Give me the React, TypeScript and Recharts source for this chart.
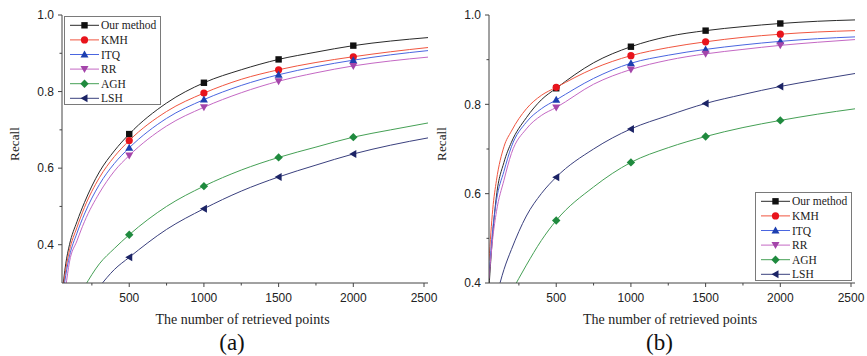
import React from "react";
import { LineChart, Line, XAxis, YAxis } from "recharts";

// sample positions along the x axis (number of retrieved points)
const xPoints = [50, 75, 100, 150, 200, 300, 400, 500, 750, 1000, 1250, 1500, 1750, 2000, 2250, 2500];
const markerAt = [500, 1000, 1500, 2000];

// panel (a)
const ourA = [0.27, 0.35, 0.4, 0.46, 0.51, 0.59, 0.645, 0.689, 0.77, 0.823, 0.857, 0.884, 0.903, 0.92, 0.932, 0.941];
const kmhA = [0.26, 0.335, 0.385, 0.445, 0.497, 0.575, 0.63, 0.672, 0.748, 0.796, 0.832, 0.857, 0.876, 0.891, 0.904, 0.915];
const itqA = [0.25, 0.32, 0.37, 0.43, 0.48, 0.557, 0.612, 0.653, 0.73, 0.779, 0.816, 0.844, 0.865, 0.882, 0.896, 0.907];
const rrA = [0.22, 0.29, 0.355, 0.41, 0.46, 0.535, 0.592, 0.633, 0.71, 0.759, 0.797, 0.827, 0.849, 0.867, 0.88, 0.89];
const aghA = [null, null, null, null, 0.29, 0.35, 0.39, 0.426, 0.5, 0.553, 0.595, 0.628, 0.655, 0.681, 0.7, 0.718];
const lshA = [null, null, null, null, null, 0.29, 0.335, 0.367, 0.44, 0.494, 0.54, 0.577, 0.608, 0.637, 0.66, 0.679];

// panel (b)
const ourB = [0.39, 0.51, 0.595, 0.67, 0.715, 0.77, 0.81, 0.836, 0.893, 0.929, 0.952, 0.965, 0.974, 0.981, 0.986, 0.989];
const kmhB = [0.45, 0.565, 0.63, 0.705, 0.74, 0.79, 0.82, 0.838, 0.88, 0.909, 0.927, 0.94, 0.95, 0.957, 0.962, 0.965];
const itqB = [0.42, 0.52, 0.585, 0.65, 0.705, 0.76, 0.79, 0.81, 0.858, 0.892, 0.91, 0.923, 0.933, 0.941, 0.947, 0.951];
const rrB = [0.41, 0.5, 0.56, 0.63, 0.69, 0.745, 0.775, 0.793, 0.845, 0.878, 0.899, 0.913, 0.923, 0.932, 0.939, 0.945];
const aghB = [null, null, null, null, 0.38, 0.44, 0.495, 0.54, 0.615, 0.67, 0.703, 0.728, 0.748, 0.764, 0.778, 0.79];
const lshB = [null, null, 0.37, 0.43, 0.475, 0.55, 0.6, 0.637, 0.7, 0.745, 0.775, 0.802, 0.822, 0.84, 0.855, 0.869];

const xTicks = [250, 500, 750, 1000, 1250, 1500, 1750, 2000, 2250, 2500];
const yTicks = [0.4, 0.5, 0.6, 0.7, 0.8, 0.9, 1.0];

type Shape = "square" | "circle" | "up" | "down" | "diamond" | "left";

const series: { key: string; name: string; line: string; fill: string; shape: Shape }[] = [
  { key: "our", name: "Our method", line: "#2a2a2a", fill: "#111111", shape: "square" },
  { key: "kmh", name: "KMH", line: "#f0553f", fill: "#e8141c", shape: "circle" },
  { key: "itq", name: "ITQ", line: "#4a66e0", fill: "#1d3fb0", shape: "up" },
  { key: "rr", name: "RR", line: "#c468c4", fill: "#a445aa", shape: "down" },
  { key: "agh", name: "AGH", line: "#45a055", fill: "#1f8a3e", shape: "diamond" },
  { key: "lsh", name: "LSH", line: "#3a407e", fill: "#1c2466", shape: "left" },
];

const rowsA = xPoints.map((x, i) => ({
  x, our: ourA[i], kmh: kmhA[i], itq: itqA[i], rr: rrA[i], agh: aghA[i], lsh: lshA[i],
}));
const rowsB = xPoints.map((x, i) => ({
  x, our: ourB[i], kmh: kmhB[i], itq: itqB[i], rr: rrB[i], agh: aghB[i], lsh: lshB[i],
}));

const sans = "'Liberation Sans', Arial, sans-serif";
const serif = "'Liberation Serif', 'Times New Roman', serif";
const axisColor = "#444";

function Marker({ cx, cy, shape, fill }: { cx: number; cy: number; shape: Shape; fill: string }) {
  switch (shape) {
    case "square":
      return <rect x={cx - 3.2} y={cy - 3.2} width={6.4} height={6.4} fill={fill} />;
    case "circle":
      return <circle cx={cx} cy={cy} r={3.6} fill={fill} />;
    case "up":
      return <polygon points={`${cx},${cy - 4} ${cx + 4},${cy + 3} ${cx - 4},${cy + 3}`} fill={fill} />;
    case "down":
      return <polygon points={`${cx},${cy + 4} ${cx + 4},${cy - 3} ${cx - 4},${cy - 3}`} fill={fill} />;
    case "diamond":
      return <polygon points={`${cx},${cy - 4.2} ${cx + 4.2},${cy} ${cx},${cy + 4.2} ${cx - 4.2},${cy}`} fill={fill} />;
    default:
      return <polygon points={`${cx - 4},${cy} ${cx + 3},${cy - 4} ${cx + 3},${cy + 4}`} fill={fill} />;
  }
}

const XTick = (props: any) => {
  const { x, y, payload } = props;
  const major = payload.value % 500 === 0;
  return (
    <g>
      <line x1={x} y1={y} x2={x} y2={y + (major ? 4 : 2.5)} stroke={axisColor} />
      {major && (
        <text x={x} y={y + 10} dy="0.71em" textAnchor="middle" fontSize={12} fontFamily={sans} fill="#222">
          {payload.value}
        </text>
      )}
    </g>
  );
};

const YTick = (props: any) => {
  const { x, y, payload } = props;
  const major = Math.round(payload.value * 10) % 2 === 0;
  return (
    <g>
      <line x1={x - (major ? 4 : 2.5)} y1={y} x2={x} y2={y} stroke={axisColor} />
      {major && (
        <text x={x - 8} y={y} dy="0.355em" textAnchor="end" fontSize={12} fontFamily={sans} fill="#222">
          {payload.value.toFixed(1)}
        </text>
      )}
    </g>
  );
};

function LegendBox({ left, top }: { left: number; top: number }) {
  return (
    <svg
      width={98}
      height={90}
      style={{ position: "absolute", left, top, overflow: "visible" }}
    >
      <rect x={0.5} y={0.5} width={96} height={88} fill="#fff" stroke="#7a7a7a" />
      {series.map((s, i) => {
        const cy = 9.3 + i * 14.6;
        return (
          <g key={s.key}>
            <line x1={6} y1={cy} x2={35} y2={cy} stroke={s.line} />
            <Marker cx={20.5} cy={cy} shape={s.shape} fill={s.fill} />
            <text x={37} y={cy} dy="0.35em" fontSize={11.5} fontFamily={serif} fill="#222">
              {s.name}
            </text>
          </g>
        );
      })}
    </svg>
  );
}

function Panel({
  data, left, width, yWidth, yMin, legend, tag, titleX,
}: {
  data: any[]; left: number; width: number; yWidth: number; yMin: number;
  legend: { left: number; top: number }; tag: string; titleX: number;
}) {
  const ticks = yTicks.filter((t) => t >= yMin);
  return (
    <>
      <div style={{ position: "absolute", left, top: 0 }}>
        <LineChart width={width} height={356} data={data} margin={{ top: 15, right: 12, left: 0, bottom: 43 }}>
          <XAxis
            dataKey="x"
            type="number"
            domain={[50, 2500]}
            ticks={xTicks}
            allowDataOverflow
            height={30}
            tickSize={0}
            tickMargin={0}
            tick={<XTick />}
            stroke={axisColor}
          />
          <YAxis
            type="number"
            domain={[yMin, 1.0]}
            ticks={ticks}
            allowDataOverflow
            width={yWidth}
            tickSize={0}
            tickMargin={0}
            tick={<YTick />}
            stroke={axisColor}
          />
          {series.map((s) => (
            <Line
              key={s.key}
              type="monotone"
              dataKey={s.key}
              stroke={s.line}
              strokeWidth={1}
              isAnimationActive={false}
              activeDot={false}
              dot={(p: any) =>
                markerAt.includes(p.payload.x) && p.value != null ? (
                  <Marker key={`${s.key}-${p.index}`} cx={p.cx} cy={p.cy} shape={s.shape} fill={s.fill} />
                ) : (
                  <g key={`${s.key}-${p.index}`} />
                )
              }
            />
          ))}
        </LineChart>
      </div>
      <LegendBox left={legend.left} top={legend.top} />
      <div
        style={{
          position: "absolute", left: left + (tag === "(a)" ? 15 : 12), top: 143.5,
          transform: "translate(-50%, -50%) rotate(-90deg)", fontFamily: serif, fontSize: 13.3,
          color: "#222", whiteSpace: "nowrap",
        }}
      >
        Recall
      </div>
      <div
        style={{
          position: "absolute", left: titleX, top: 320, transform: "translate(-50%, -50%)",
          fontFamily: serif, fontSize: 14, color: "#222", whiteSpace: "nowrap",
        }}
      >
        The number of retrieved points
      </div>
      <div
        style={{
          position: "absolute", left: titleX - 10.5, top: 343, transform: "translate(-50%, -50%)",
          fontFamily: serif, fontSize: 23, color: "#111", whiteSpace: "nowrap",
        }}
      >
        {tag}
      </div>
    </>
  );
}

export default function App() {
  return (
    <div style={{ position: "absolute", left: 0, top: 0, width: 867, height: 356, background: "#fff", overflow: "hidden" }}>
      <Panel data={rowsA} left={0} width={440} yWidth={62} yMin={0.3} legend={{ left: 64, top: 16 }} tag="(a)" titleX={242.5} />
      <Panel data={rowsB} left={430} width={437} yWidth={59} yMin={0.4} legend={{ left: 755, top: 192 }} tag="(b)" titleX={670} />
    </div>
  );
}
